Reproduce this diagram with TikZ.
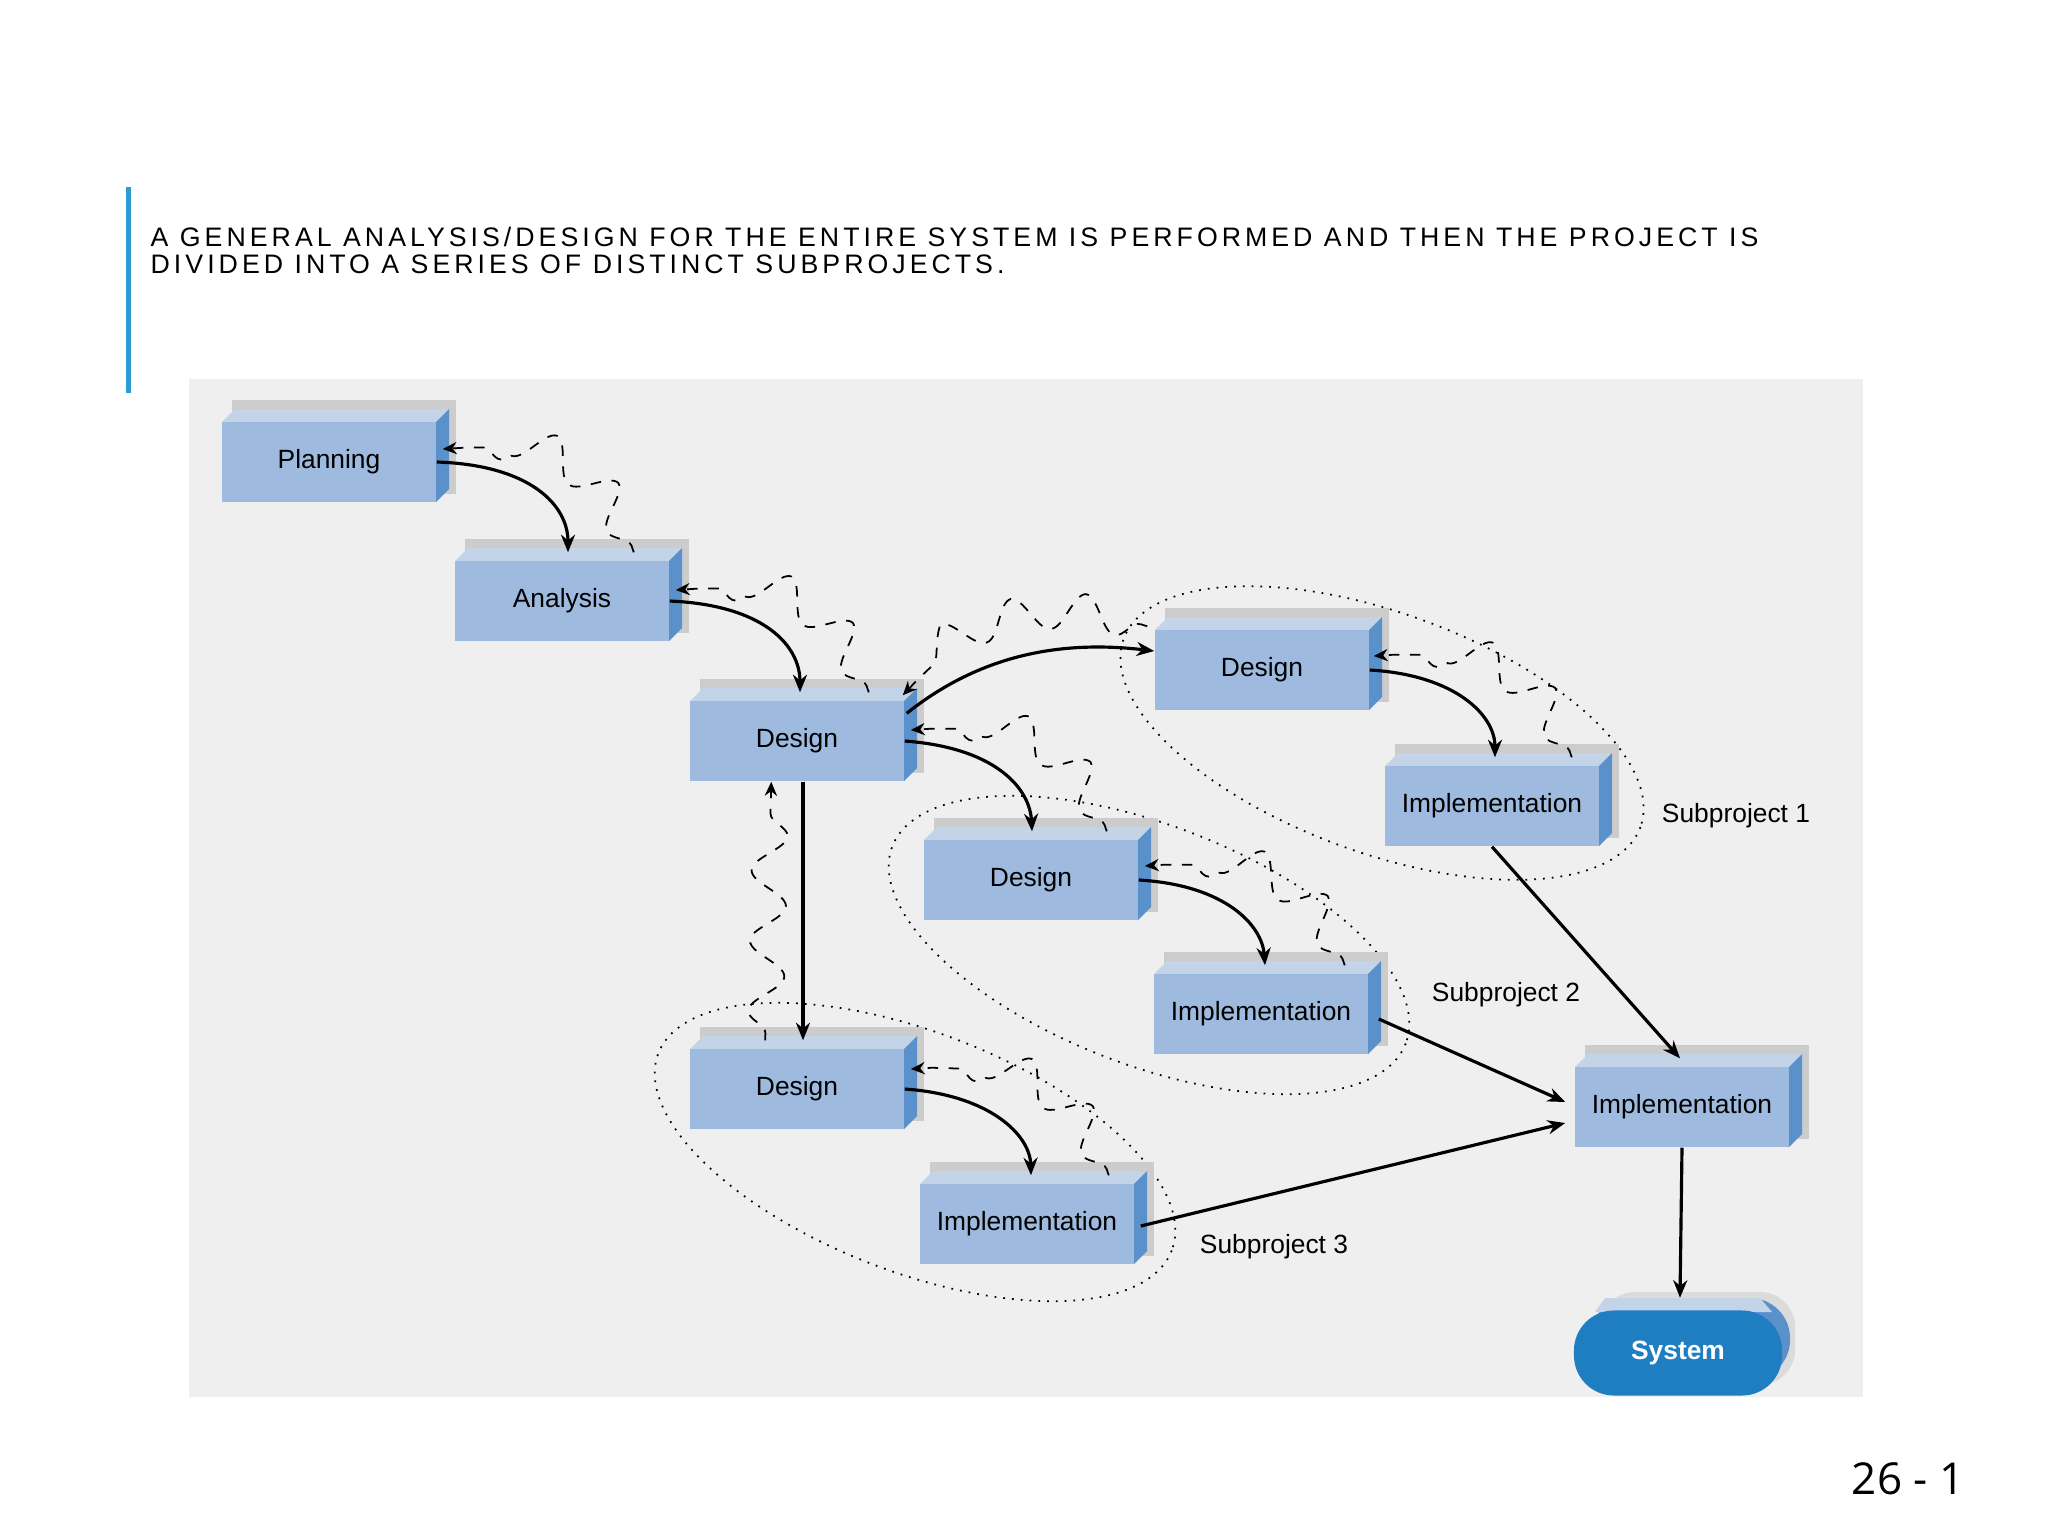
\documentclass[tikz,border=0pt]{standalone}
\usepackage{fontspec}
\setmainfont{Liberation Sans}
\newfontfamily\pgfont{Open Sans}
\usetikzlibrary{calc,decorations.pathmorphing,arrows.meta}
\definecolor{bgc}{HTML}{EFEFEF}
\definecolor{frontc}{HTML}{9EBBDF}
\definecolor{sidec}{HTML}{5B91CB}
\definecolor{topc}{HTML}{C3D3E8}
\definecolor{sysc}{HTML}{1F7DC1}
\definecolor{barc}{HTML}{2E9AD6}
\tikzset{
 boxn/.style={fill=frontc,minimum width=2.14cm,minimum height=0.8cm,inner sep=0pt,font=\fontsize{7.5}{8}\selectfont},
 flow/.style={-{Stealth[length=5pt,width=4pt]},line width=0.9pt},
 wav/.style={-{Stealth[length=4pt,width=3.5pt]},dashed,line width=0.5pt,decorate,decoration={snake,amplitude=5pt,segment length=20pt,pre length=2pt,post length=6pt}},
 ell/.style={dotted,line width=0.5pt},
 sub/.style={font=\fontsize{7.5}{8}\selectfont},
}
\newcommand\blk[4]{%
 \fill[black!20] ({#2-97},{#3-62}) rectangle ({#2+127},{#3+32});
 \fill[topc] ({#2-107},{#3-40}) -- ({#2-94},{#3-53}) -- ({#2+120},{#3-53}) -- ({#2+107},{#3-40}) -- cycle;
 \fill[sidec] ({#2+107},{#3-40}) -- ({#2+120},{#3-53}) -- ({#2+120},{#3+27}) -- ({#2+107},{#3+40}) -- cycle;
 \node[boxn] (#1) at (#2,#3) {#4};}
\newcommand\ellp[5]{%
 \draw[ell] plot[domain=0:360,samples=120,smooth] ({#1+#3*cos(\x)*cos(#5)-#4*sin(\x)*sin(#5)},{#2+#3*cos(\x)*sin(#5)+#4*sin(\x)*cos(#5)});}
\begin{document}
\begin{tikzpicture}[x=0.01cm,y=-0.01cm]
\useasboundingbox (0,0) rectangle (2048,1536);
\fill[white] (0,0) rectangle (2048,1536);
\fill[barc] (126,187) rectangle (131,393);
\node[anchor=base west,inner sep=0pt,font=\fontsize{7.6}{8}\selectfont\addfontfeatures{LetterSpace=15}] (t1) at (150,246) {A GENERAL ANALYSIS/DESIGN FOR THE ENTIRE SYSTEM IS PERFORMED AND THEN THE PROJECT IS};
\node[anchor=base west,inner sep=0pt,font=\fontsize{7.6}{8}\selectfont\addfontfeatures{LetterSpace=15}] (t2) at (150,273) {DIVIDED INTO A SERIES OF DISTINCT SUBPROJECTS.};
\node[anchor=base east,inner sep=0pt,font=\pgfont\fontsize{12.5}{14}\selectfont] (pg) at (1965,1494) {26 - 1};
\fill[bgc] (189,379) rectangle (1863,1397);
% ellipses
\ellp{1382}{733}{275}{120}{20}
\ellp{1149}{945}{275}{120}{21}
\ellp{915}{1152}{275}{120}{21}
% boxes
\blk{P}{329}{462}{Planning}
\blk{A}{562}{601}{Analysis}
\blk{D1}{797}{741}{Design}
\blk{DS1}{1262}{670}{Design}
\blk{IS1}{1492}{806}{Implementation}
\blk{DS2}{1031}{880}{Design}
\blk{IS2}{1261}{1014}{Implementation}
\blk{DS3}{797}{1089}{Design}
\blk{IS3}{1027}{1224}{Implementation}
\blk{IF}{1682}{1107}{Implementation}
% system
\fill[black!14,rounded corners=0.35cm] (1600,1292) rectangle (1795,1385);
\fill[sidec,rounded corners=0.4cm] (1590,1298) rectangle (1790,1380);
\fill[topc] (1605,1298) -- (1760,1298) -- (1772,1312) -- (1595,1312) -- cycle;
\node[fill=sysc,rounded corners=0.4cm,minimum width=2.08cm,minimum height=0.85cm,inner sep=0pt,text=white,font=\fontsize{7.5}{8}\selectfont\bfseries] (S) at (1678,1353) {System};
% subproject labels
\node[sub] (L1) at (1736,816) {Subproject 1};
\node[sub] (L2) at (1506,995) {Subproject 2};
\node[sub] (L3) at (1274,1247) {Subproject 3};
% solid flows
\draw[flow] (P.east) .. controls (530,465) and (568,505) .. ($(A.north)+(6,-8)$);
\draw[flow] (A.east) .. controls (763,605) and (800,645) .. ($(D1.north)+(3,-8)$);
\draw[flow] ($(D1.north east)+(2,13)$) .. controls (980,655) and (1060,640) .. ($(DS1.west)+(0,-19)$);
\draw[flow] (D1.east) .. controls (998,748) and (1030,790) .. ($(DS2.north)+(1,-8)$);
\draw[flow] (DS1.east) .. controls (1455,675) and (1495,715) .. ($(IS1.north)+(3,-8)$);
\draw[flow] (DS2.east) .. controls (1225,885) and (1262,925) .. ($(IS2.north)+(4,-8)$);
\draw[flow] (DS3.east) .. controls (990,1095) and (1030,1135) .. ($(IS3.north)+(4,-8)$);
\draw[flow] ($(D1.south)+(6,0)$) -- ($(DS3.north)+(6,-8)$);
\draw[flow] (IS1.south) -- ($(IF.north)+(-2,-8)$);
\draw[flow] ($(IS2.east)+(10,5)$) -- ($(IF.west)+(-9,-5)$);
\draw[flow] ($(IS3.east)+(6,2)$) -- ($(IF.west)+(-9,16)$);
\draw[flow] (IF.south) -- ($(S.north)+(2,-12)$);
% wavy feedback
\draw[wav] ($(A.north east)+(-36,-8)$) .. controls +(-20,-65) and +(85,-10) .. ($(P.east)+(6,-13)$);
\draw[wav] ($(D1.north east)+(-36,-8)$) .. controls +(-20,-65) and +(85,-10) .. ($(A.east)+(6,-11)$);
\draw[wav] ($(DS1.north west)+(-7,-3)$) .. controls +(-90,-30) and +(50,-60) .. ($(D1.north east)+(-2,-5)$);
\draw[wav] ($(DS2.north east)+(-32,-8)$) .. controls +(-20,-65) and +(85,-10) .. ($(D1.east)+(6,-11)$);
\draw[wav] ($(IS1.north east)+(-28,-8)$) .. controls +(-20,-65) and +(85,-10) .. ($(DS1.east)+(4,-14)$);
\draw[wav] ($(IS2.north east)+(-24,-8)$) .. controls +(-20,-65) and +(85,-10) .. ($(DS2.east)+(6,-14)$);
\draw[wav] ($(IS3.north east)+(-26,-8)$) .. controls +(-20,-65) and +(85,-10) .. ($(DS3.east)+(6,-20)$);
\draw[wav] ($(DS3.north west)+(76,-8)$) -- ($(D1.south west)+(82,0)$);
\end{tikzpicture}
\end{document}
